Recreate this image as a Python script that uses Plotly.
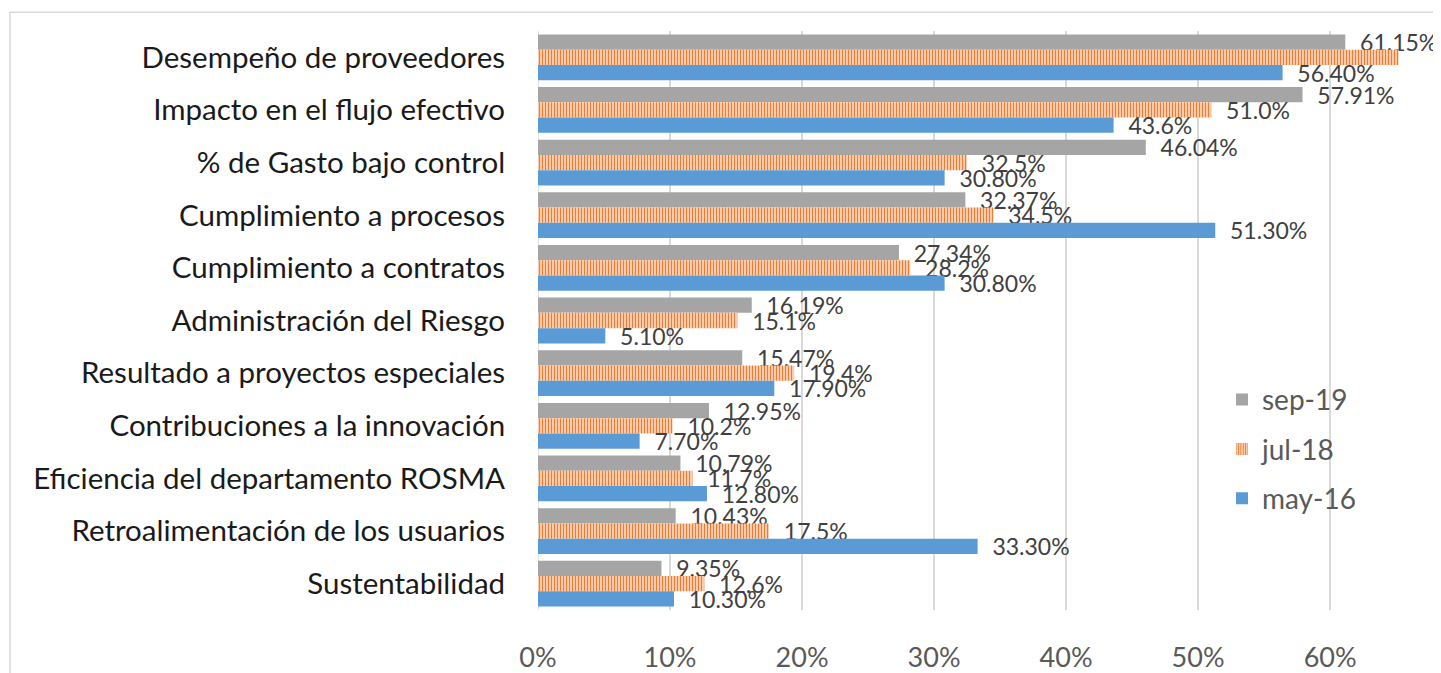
import plotly.graph_objects as go

categories = [
    "Desempeño de proveedores",
    "Impacto en el flujo efectivo",
    "% de Gasto bajo control",
    "Cumplimiento a procesos",
    "Cumplimiento a contratos",
    "Administración del Riesgo",
    "Resultado a proyectos especiales",
    "Contribuciones a la innovación",
    "Eficiencia del departamento ROSMA",
    "Retroalimentación de los usuarios",
    "Sustentabilidad",
]

sep19 = [61.15, 57.91, 46.04, 32.37, 27.34, 16.19, 15.47, 12.95, 10.79, 10.43, 9.35]
jul18 = [65.2, 51.0, 32.5, 34.5, 28.2, 15.1, 19.4, 10.2, 11.7, 17.5, 12.6]
may16 = [56.40, 43.6, 30.80, 51.30, 30.80, 5.10, 17.90, 7.70, 12.80, 33.30, 10.30]

sep19_labels = ["61.15%", "57.91%", "46.04%", "32.37%", "27.34%", "16.19%", "15.47%", "12.95%", "10.79%", "10.43%", "9.35%"]
jul18_labels = ["", "51.0%", "32.5%", "34.5%", "28.2%", "15.1%", "19.4%", "10.2%", "11.7%", "17.5%", "12.6%"]
may16_labels = ["56.40%", "43.6%", "30.80%", "51.30%", "30.80%", "5.10%", "17.90%", "7.70%", "12.80%", "33.30%", "10.30%"]

x_ticks = [0, 10, 20, 30, 40, 50, 60]
x_ticklabels = ["0%", "10%", "20%", "30%", "40%", "50%", "60%"]

FONT = "Lato"
OFF = 8  # page body margin
W, H = 1441 - OFF, 673 - OFF
ML, MR, MT, MB = 538 - OFF, 0, 31 - OFF, 56
PAD = "\u00a0\u00a0"

fig = go.Figure()

def add(name, vals, labels, color, pattern=None):
    marker = dict(color=color, line=dict(width=0))
    if pattern:
        marker = dict(color="white", line=dict(width=0),
                      pattern=dict(shape="|", fgcolor=color, bgcolor="white",
                                   size=3, solidity=0.6, fgopacity=1,
                                   fillmode="replace"))
    fig.add_trace(go.Bar(
        name=name, y=categories, x=vals, orientation="h",
        marker=marker,
        text=[PAD + t if t else "" for t in labels],
        textposition="outside", constraintext="none", cliponaxis=False,
        textfont=dict(family=FONT, size=23, color="#404040"),
        legendgroup=name, hoverinfo="x+y",
    ))

add("sep-19", sep19, sep19_labels, "#A5A5A5")
add("jul-18", jul18, jul18_labels, "#ED7D31", pattern=True)
add("may-16", may16, may16_labels, "#5B9BD5")

plot_w = W - ML - MR
plot_h = H - MT - MB
x_max = 68.4

# outer chart frame (light gray border)
fig.add_shape(type="rect", xref="paper", yref="paper",
              x0=(10 - OFF - ML) / plot_w, x1=(W + 20 - ML) / plot_w,
              y0=-(MB + 20) / plot_h, y1=1 + (MT - (12 - OFF)) / plot_h,
              line=dict(color="#D9D9D9", width=1.5), fillcolor="rgba(0,0,0,0)",
              layer="below")

fig.update_layout(
    width=W, height=H,
    margin=dict(l=ML, r=MR, t=MT, b=MB),
    paper_bgcolor="white", plot_bgcolor="white",
    barmode="group", bargap=0.13, bargroupgap=0,
    font=dict(family=FONT, color="#595959"),
    legend=dict(x=684 / plot_w, y=(H - MB - 371) / plot_h, xanchor="left", yanchor="top",
                font=dict(family=FONT, size=28, color="#595959"),
                bgcolor="rgba(255,255,255,0)", tracegroupgap=10, itemwidth=30),
    showlegend=True,
)

fig.update_xaxes(range=[0, x_max], tickvals=x_ticks, ticktext=x_ticklabels,
                 showgrid=True, gridcolor="#D9D9D9", gridwidth=1.5,
                 zeroline=False, showline=False,
                 ticks="outside", ticklen=24, tickcolor="rgba(0,0,0,0)",
                 tickfont=dict(family=FONT, size=27, color="#595959"))
fig.update_yaxes(autorange="reversed", type="category",
                 showgrid=False, zeroline=False,
                 showline=False,
                 ticks="outside", ticklen=26, tickcolor="rgba(0,0,0,0)",
                 tickfont=dict(family=FONT, size=29.5, color="#1a1a1a"))

# y axis line at 0%
fig.add_shape(type="line", xref="x", yref="paper", x0=0, x1=0, y0=0, y1=1,
              line=dict(color="#D9D9D9", width=1.5), layer="below")

fig.write_html("out.html")
